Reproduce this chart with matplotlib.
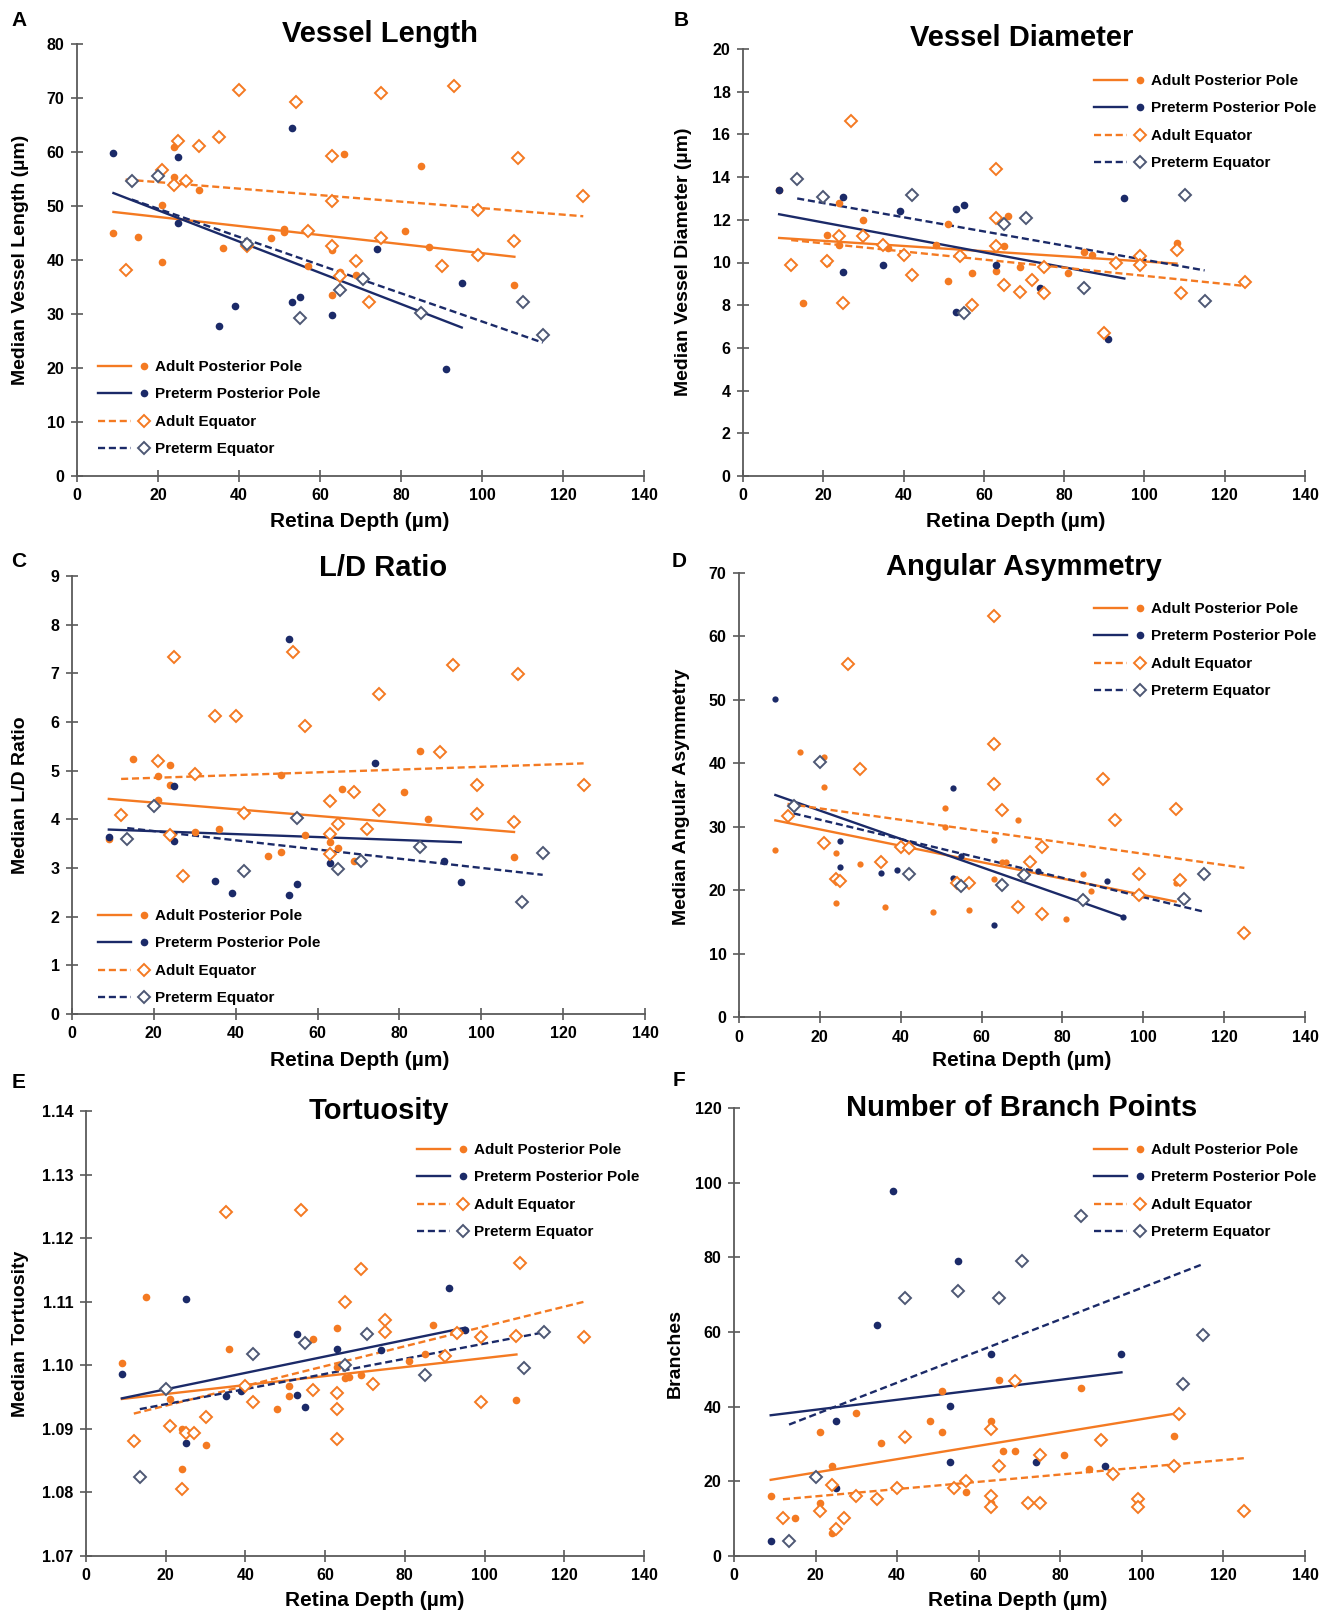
import matplotlib.pyplot as plt
from matplotlib.lines import Line2D
from matplotlib.legend_handler import HandlerBase

plt.rcParams["font.family"] = ["Liberation Sans", "DejaVu Sans"]
plt.rcParams["font.weight"] = "bold"

W, H = 1323, 1613
ORANGE = "#F47A22"
NAVY = "#1B2A68"
SLATE = "#4E5874"
AXIS_GREY = "#5A5A5A"

# retina depth (um) of each sample, per group
adult_pole_depth = [9, 15, 21, 21, 24, 24, 30, 36, 48, 51, 51, 57, 63, 63, 65, 66, 69, 81, 85, 87, 108]
preterm_pole_depth = [9, 25, 25, 35, 39, 53, 53, 55, 63, 74, 91, 95]
adult_eq_depth = [12, 21, 24, 25, 27, 30, 35, 40, 42, 54, 57, 63, 63, 63, 65, 69, 72, 75, 75, 90, 93,
                  99, 99, 108, 109, 125]
preterm_eq_depth = [13.5, 20, 42, 55, 65, 70.5, 85, 110, 115]

# depth range covered by each trend line
adult_pole_fit_x = [9, 108]
preterm_pole_fit_x = [9, 95]
adult_eq_fit_x = [12, 125]
preterm_eq_fit_x = [13.5, 115]

labels = ["Adult Posterior Pole", "Preterm Posterior Pole", "Adult Equator", "Preterm Equator"]

# A - vessel length
length_adult_pole = [45.0, 44.3, 50.2, 39.6, 60.9, 55.3, 53.0, 42.3, 44.0, 45.8, 45.2, 38.8, 41.9, 33.5,
                     37.8, 59.7, 37.3, 45.4, 57.5, 42.4, 35.3]
length_preterm_pole = [59.8, 59.1, 46.9, 27.7, 31.4, 32.3, 64.4, 33.1, 29.8, 42.0, 19.9, 35.7]
length_adult_eq = [38.1, 56.7, 53.8, 62.0, 54.6, 61.2, 62.8, 71.4, 42.6, 69.2, 45.4, 59.2, 51.0, 42.5,
                   37.1, 39.9, 32.2, 71.0, 44.1, 38.8, 72.2, 49.3, 41.0, 43.6, 58.9, 51.8]
length_preterm_eq = [54.7, 55.5, 42.9, 29.3, 34.4, 36.5, 30.1, 32.2, 26.2]
length_fits = [[48.9, 40.6], [52.4, 27.5], [54.9, 48.1], [51.2, 24.7]]

# B - vessel diameter
diam_adult_pole = [13.4, 8.1, 11.3, 10.0, 12.8, 10.8, 12.0, 10.7, 10.8, 11.8, 9.15, 9.5, 9.6, 12.1,
                   10.75, 12.2, 9.8, 9.5, 10.5, 10.35, 10.9]
diam_preterm_pole = [13.4, 13.05, 9.55, 9.9, 12.4, 12.5, 7.7, 12.7, 9.9, 8.8, 6.4, 13.0]
diam_adult_eq = [9.9, 10.05, 11.25, 8.1, 16.65, 11.25, 10.8, 10.35, 9.4, 10.3, 8.0, 14.4, 12.1, 10.75,
                 8.95, 8.6, 9.2, 9.8, 8.55, 6.7, 10.0, 10.3, 9.9, 10.6, 8.55, 9.1]
diam_preterm_eq = [13.9, 13.05, 13.15, 7.65, 11.8, 12.1, 8.8, 13.15, 8.2]
diam_fits = [[11.15, 9.95], [12.26, 9.25], [11.05, 8.9], [13.0, 9.63]]

# C - L/D ratio
ld_adult_pole = [3.59, 5.24, 4.89, 4.39, 5.12, 4.71, 3.73, 3.81, 3.24, 3.32, 4.92, 3.67, 4.41, 3.53,
                 3.42, 4.63, 3.14, 4.56, 5.40, 4.01, 3.22]
ld_preterm_pole = [3.64, 4.68, 3.55, 2.74, 2.48, 2.45, 7.71, 2.68, 3.10, 5.16, 3.14, 2.71]
ld_adult_eq = [4.09, 5.19, 3.68, 7.34, 2.84, 4.93, 6.13, 6.13, 4.14, 7.44, 5.92, 4.38, 3.70, 3.29,
               3.90, 4.57, 3.81, 6.58, 4.20, 5.39, 7.18, 4.70, 4.10, 3.94, 6.99, 4.70]
ld_preterm_eq = [3.59, 4.27, 2.93, 4.03, 2.98, 3.14, 3.44, 2.30, 3.31]
ld_fits = [[4.42, 3.74], [3.79, 3.53], [4.83, 5.15], [3.82, 2.86]]

# D - angular asymmetry
asym_adult_pole = [26.3, 41.8, 41.0, 36.3, 25.9, 18.0, 24.1, 17.4, 16.6, 33.0, 29.9, 16.8, 27.9, 21.8,
                   24.4, 24.4, 31.1, 15.4, 22.5, 19.9, 21.1]
asym_preterm_pole = [50.2, 27.8, 23.6, 22.7, 23.2, 21.9, 36.1, 25.4, 14.5, 23.0, 21.4, 15.8]
asym_adult_eq = [31.7, 27.5, 21.8, 21.4, 55.7, 39.1, 24.4, 26.8, 26.6, 21.1, 21.1, 63.2, 43.1, 36.7,
                 32.6, 17.3, 24.5, 26.8, 16.2, 37.6, 31.1, 22.5, 19.2, 32.8, 21.6, 13.3]
asym_preterm_eq = [33.2, 40.2, 22.6, 20.7, 20.8, 22.4, 18.4, 18.6, 22.5]
asym_fits = [[31.0, 18.2], [35.0, 15.8], [33.6, 23.5], [32.1, 16.6]]

# E - tortuosity
tort_adult_pole = [1.1003, 1.1108, 1.0947, 1.0905, 1.0900, 1.0837, 1.0874, 1.1026, 1.0932, 1.0967,
                   1.0951, 1.1041, 1.1059, 1.0998, 1.0980, 1.0982, 1.0985, 1.1006, 1.1017, 1.1064, 1.0946]
tort_preterm_pole = [1.0986, 1.1105, 1.0878, 1.0952, 1.0960, 1.1050, 1.0953, 1.0935, 1.1026, 1.1024,
                     1.1122, 1.1056]
tort_adult_eq = [1.0881, 1.0904, 1.0806, 1.0893, 1.0893, 1.0918, 1.1241, 1.0967, 1.0943, 1.1244,
                 1.0961, 1.0957, 1.0932, 1.0884, 1.1100, 1.1151, 1.0970, 1.1071, 1.1052, 1.1015,
                 1.1051, 1.1045, 1.0943, 1.1046, 1.1161, 1.1044]
tort_preterm_eq = [1.0825, 1.0963, 1.1018, 1.1035, 1.1001, 1.1050, 1.0985, 1.0995, 1.1053]
tort_fits = [[1.0947, 1.1017], [1.0948, 1.1059], [1.0924, 1.1100], [1.0931, 1.1052]]

# F - branch points
branch_adult_pole = [16.1, 10.3, 33.2, 14.1, 24.1, 6.2, 38.2, 30.2, 36.2, 44.2, 33.2, 17.1, 36.2, 14.1,
                     47.1, 28.2, 28.2, 27.1, 45.1, 23.2, 32.1]
branch_preterm_pole = [4.1, 36.2, 18.2, 62.0, 97.9, 40.1, 25.2, 79.1, 54.2, 25.2, 24.1, 54.2]
branch_adult_eq = [10.2, 12.1, 18.9, 7.1, 10.3, 16.1, 15.2, 18.1, 32.0, 18.2, 20.2, 33.9, 16.1, 13.0,
                   24.0, 47.0, 14.1, 27.1, 14.1, 31.0, 22.0, 15.2, 13.0, 24.0, 38.1, 12.1]
branch_preterm_eq = [4.0, 21.1, 69.0, 71.0, 69.0, 79.0, 91.0, 46.1, 59.1]
branch_fits = [[20.4, 38.1], [37.7, 49.2], [15.2, 26.2], [35.2, 78.2]]


def px_rect(left, top, right, bottom):
    return [left / W, 1 - bottom / H, (right - left) / W, (bottom - top) / H]


panels = [
    dict(letter="A", title="Vessel Length", ylabel="Median Vessel Length (µm)",
         series=[length_adult_pole, length_preterm_pole, length_adult_eq, length_preterm_eq],
         fits=length_fits, yticks=range(0, 81, 10), fmt="{:.0f}",
         rect=(77, 44, 644, 476), letter_xy=(19, 21), title_xy=(380, 34),
         ylabel_xy=(21, 260), xlabel_xy=(360, 522), legend_xy=(98, 360), dot=5.5),
    dict(letter="B", title="Vessel Diameter", ylabel="Median Vessel Diameter (µm)",
         series=[diam_adult_pole, diam_preterm_pole, diam_adult_eq, diam_preterm_eq],
         fits=diam_fits, yticks=range(0, 21, 2), fmt="{:.0f}",
         rect=(743, 49, 1305, 476), letter_xy=(681, 21), title_xy=(1022, 38),
         ylabel_xy=(684, 262), xlabel_xy=(1016, 522), legend_xy=(1094, 74), dot=5.5),
    dict(letter="C", title="L/D Ratio", ylabel="Median L/D Ratio",
         series=[ld_adult_pole, ld_preterm_pole, ld_adult_eq, ld_preterm_eq],
         fits=ld_fits, yticks=range(0, 10, 1), fmt="{:.0f}",
         rect=(72, 576, 645, 1014), letter_xy=(19, 562), title_xy=(383, 568),
         ylabel_xy=(21, 795), xlabel_xy=(360, 1061), legend_xy=(98, 909), dot=5.5),
    dict(letter="D", title="Angular Asymmetry", ylabel="Median Angular Asymmetry",
         series=[asym_adult_pole, asym_preterm_pole, asym_adult_eq, asym_preterm_eq],
         fits=asym_fits, yticks=range(0, 71, 10), fmt="{:.0f}",
         rect=(739, 573, 1305, 1017), letter_xy=(679, 562), title_xy=(1024, 567),
         ylabel_xy=(681, 797), xlabel_xy=(1022, 1061), legend_xy=(1094, 602), dot=4.5),
    dict(letter="E", title="Tortuosity", ylabel="Median Tortuosity",
         series=[tort_adult_pole, tort_preterm_pole, tort_adult_eq, tort_preterm_eq],
         fits=tort_fits, yticks=[1.07, 1.08, 1.09, 1.10, 1.11, 1.12, 1.13, 1.14], fmt="{:.2f}",
         rect=(86, 1111, 644, 1556), letter_xy=(19, 1082), title_xy=(379, 1111),
         ylabel_xy=(21, 1334), xlabel_xy=(375, 1600), legend_xy=(417, 1143), dot=5.5),
    dict(letter="F", title="Number of Branch Points", ylabel="Branches",
         series=[branch_adult_pole, branch_preterm_pole, branch_adult_eq, branch_preterm_eq],
         fits=branch_fits, yticks=range(0, 121, 20), fmt="{:.0f}",
         rect=(734, 1108, 1305, 1556), letter_xy=(679, 1080), title_xy=(1022, 1108),
         ylabel_xy=(675, 1353), xlabel_xy=(1018, 1600), legend_xy=(1094, 1143), dot=5.5),
]

depths = [adult_pole_depth, preterm_pole_depth, adult_eq_depth, preterm_eq_depth]
fit_xs = [adult_pole_fit_x, preterm_pole_fit_x, adult_eq_fit_x, preterm_eq_fit_x]
line_colors = [ORANGE, NAVY, ORANGE, NAVY]
line_styles = ["-", "-", "--", "--"]
markers = ["o", "o", "D", "D"]
marker_face = [ORANGE, NAVY, "white", "white"]
marker_edge = [ORANGE, NAVY, ORANGE, SLATE]
DASHES = (3, 1.6)


class LineThenMarker(HandlerBase):
    # legend key: short line segment, then the marker on its own just before the text
    def create_artists(self, legend, orig_handle, xdescent, ydescent, width, height, fontsize, trans):
        line, marker = orig_handle
        y = height / 2 - ydescent
        seg = Line2D([-xdescent, -xdescent + 0.63 * width], [y, y])
        seg.update_from(line)
        dot = Line2D([-xdescent + 0.885 * width], [y])
        dot.update_from(marker)
        seg.set_transform(trans)
        dot.set_transform(trans)
        return [seg, dot]


fig = plt.figure(figsize=(W / 100, H / 100), dpi=100)


def fig_xy(xy):
    return xy[0] / W, 1 - xy[1] / H


for p in panels:
    ax = fig.add_axes(px_rect(*p["rect"]))
    handles = []
    for i in range(4):
        dashed = line_styles[i] == "--"
        ln, = ax.plot(fit_xs[i], p["fits"][i], color=line_colors[i], lw=1.7, zorder=2)
        if dashed:
            ln.set_dashes(DASHES)
        if markers[i] == "o":
            ms, mew = p["dot"], 0
        else:
            ms, mew = 6.5, 1.4
        ax.plot(depths[i], p["series"][i], ls="none", marker=markers[i], ms=ms,
                mfc=marker_face[i], mec=marker_edge[i], mew=mew, zorder=3, clip_on=False)
        lh = Line2D([], [], color=line_colors[i], lw=1.7)
        if dashed:
            lh.set_dashes(DASHES)
        mh = Line2D([], [], ls="none", marker=markers[i], ms=5.5 if markers[i] == "o" else 6.5,
                    mfc=marker_face[i], mec=marker_edge[i], mew=mew)
        handles.append((lh, mh))

    ax.set_xlim(0, 140)
    ax.set_xticks(range(0, 141, 20))
    yt = list(p["yticks"])
    ax.set_ylim(yt[0], yt[-1])
    ax.set_yticks(yt)
    ax.set_yticklabels([p["fmt"].format(v) for v in yt])
    for side in ["top", "right"]:
        ax.spines[side].set_visible(False)
    for side in ["left", "bottom"]:
        ax.spines[side].set_color(AXIS_GREY)
        ax.spines[side].set_linewidth(1.3)
    ax.tick_params(direction="inout", length=8, width=1.2, color=AXIS_GREY, labelsize=11.5,
                   pad=5)

    leg = ax.legend(handles, labels, handler_map={tuple: LineThenMarker()},
                    loc="upper left", bbox_to_anchor=fig_xy(p["legend_xy"]),
                    bbox_transform=fig.transFigure, frameon=False, borderpad=0,
                    borderaxespad=0, handlelength=3.4, handletextpad=0.3, labelspacing=0.88,
                    prop={"weight": "bold", "size": 11})
    leg.set_zorder(5)

    fig.text(*fig_xy(p["letter_xy"]), p["letter"], fontsize=15, fontweight="bold",
             ha="center", va="center")
    fig.text(*fig_xy(p["title_xy"]), p["title"], fontsize=21, fontweight="bold",
             ha="center", va="center")
    fig.text(*fig_xy(p["xlabel_xy"]), "Retina Depth (µm)", fontsize=15, fontweight="bold",
             ha="center", va="center")
    fig.text(*fig_xy(p["ylabel_xy"]), p["ylabel"], fontsize=14, fontweight="bold",
             ha="center", va="center", rotation=90)

fig.savefig("out.png", dpi=100)
